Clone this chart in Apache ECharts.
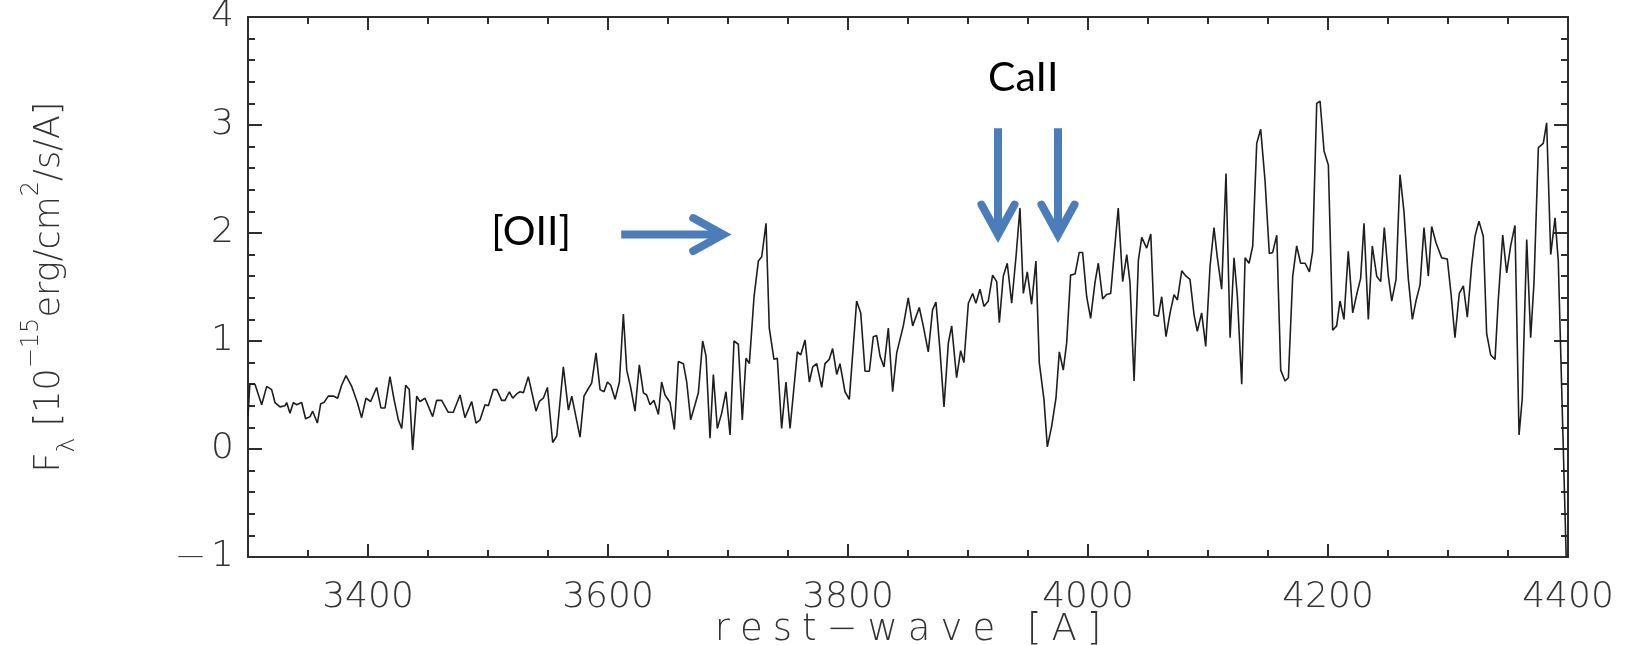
<!DOCTYPE html>
<html>
<head>
<meta charset="utf-8">
<script src="https://cdn.jsdelivr.net/npm/echarts@6/dist/echarts.min.js"></script>
<style>
  html, body { margin: 0; padding: 0; background: #ffffff; }
  #chart { width: 1644px; height: 645px; }
</style>
</head>
<body>
<div id="chart"></div>
<script>
// Rest-frame spectrum: wavelength [A] and flux [1e-15 erg/cm^2/s/A]
const wavelength = [
  3300.0, 3301.5, 3305.8, 3311.4, 3315.6, 3319.7, 3322.5, 3326.7, 3330.8, 3332.2,
  3335.0, 3337.8, 3340.6, 3344.7, 3348.0, 3351.7, 3353.9, 3357.8, 3360.6, 3363.3,
  3366.9, 3371.1, 3374.7, 3378.0, 3381.7, 3386.4, 3391.1, 3394.7, 3398.3, 3402.2,
  3407.2, 3410.8, 3414.2, 3418.3, 3421.7, 3425.3, 3428.1, 3431.4, 3434.4, 3437.2,
  3440.6, 3443.3, 3447.5, 3453.9, 3457.2, 3461.4, 3466.9, 3471.1, 3476.7, 3480.8,
  3486.4, 3490.0, 3493.4, 3497.5, 3500.3, 3504.5, 3507.3, 3511.4, 3514.2, 3517.8,
  3520.6, 3523.9, 3526.7, 3529.5, 3533.6, 3536.4, 3540.0, 3542.8, 3546.1, 3549.5,
  3553.9, 3557.3, 3562.8, 3567.0, 3569.8, 3576.7, 3580.0, 3583.6, 3586.4, 3590.0,
  3593.4, 3596.7, 3599.5, 3602.3, 3605.9, 3609.5, 3612.8, 3615.6, 3618.9, 3622.5,
  3626.1, 3629.5, 3632.2, 3635.0, 3638.3, 3642.0, 3644.7, 3647.5, 3651.7, 3655.3,
  3658.6, 3662.8, 3665.6, 3668.9, 3672.5, 3675.3, 3678.9, 3681.7, 3685.0, 3687.8,
  3691.1, 3694.7, 3698.3, 3701.7, 3705.0, 3708.6, 3711.9, 3715.0, 3717.8, 3721.7,
  3725.3, 3728.1, 3731.7, 3734.4, 3738.3, 3741.1, 3744.7, 3748.3, 3751.7, 3757.8,
  3760.6, 3764.2, 3767.8, 3770.6, 3773.9, 3778.1, 3780.8, 3784.4, 3787.2, 3790.6,
  3793.3, 3797.5, 3801.1, 3807.2, 3810.6, 3814.2, 3817.8, 3821.1, 3823.9, 3826.7,
  3830.0, 3833.6, 3837.2, 3840.6, 3846.1, 3850.2, 3853.9, 3859.4, 3862.7, 3866.9,
  3870.5, 3873.3, 3876.6, 3880.0, 3883.6, 3886.4, 3890.5, 3893.9, 3896.6, 3900.3,
  3903.9, 3906.6, 3910.0, 3913.3, 3916.9, 3920.5, 3923.9, 3926.1, 3929.4, 3932.7,
  3936.4, 3940.0, 3943.3, 3946.1, 3949.4, 3953.0, 3956.6, 3959.4, 3963.3, 3966.1,
  3969.7, 3973.3, 3976.1, 3979.4, 3982.2, 3985.5, 3989.2, 3992.7, 3995.5, 3998.9,
  4002.2, 4005.8, 4008.6, 4012.2, 4015.5, 4018.9, 4021.9, 4025.2, 4028.9, 4032.3,
  4035.0, 4038.4, 4042.0, 4044.8, 4048.9, 4052.3, 4055.0, 4058.6, 4061.4, 4065.0,
  4068.4, 4071.7, 4074.5, 4078.1, 4081.7, 4085.0, 4088.4, 4091.1, 4094.7, 4098.1,
  4101.7, 4105.0, 4107.8, 4111.4, 4115.0, 4118.4, 4121.7, 4124.5, 4128.1, 4130.9,
  4134.2, 4137.3, 4140.6, 4143.9, 4147.5, 4151.1, 4153.9, 4157.3, 4160.6, 4164.2,
  4167.0, 4170.6, 4173.9, 4177.2, 4180.9, 4184.5, 4187.2, 4190.6, 4193.4, 4196.7,
  4200.3, 4203.9, 4207.2, 4210.0, 4213.3, 4216.9, 4220.6, 4223.9, 4227.2, 4230.0,
  4233.6, 4236.9, 4240.6, 4243.9, 4246.9, 4250.3, 4253.1, 4256.7, 4260.0, 4263.3,
  4266.9, 4270.3, 4273.3, 4276.7, 4280.0, 4283.6, 4286.4, 4290.0, 4294.7, 4299.4,
  4302.5, 4305.8, 4309.4, 4312.8, 4316.1, 4319.7, 4322.5, 4325.8, 4329.4, 4332.2,
  4335.6, 4339.2, 4341.9, 4345.6, 4348.9, 4352.2, 4355.8, 4359.2, 4361.9, 4365.6,
  4368.9, 4371.7, 4375.3, 4379.4, 4382.2, 4385.6, 4389.2, 4391.9, 4398.5
];
const flux = [
  0.30, 0.60, 0.60, 0.41, 0.58, 0.55, 0.43, 0.39, 0.40, 0.43,
  0.33, 0.43, 0.41, 0.43, 0.28, 0.30, 0.35, 0.24, 0.42, 0.43,
  0.49, 0.49, 0.47, 0.59, 0.68, 0.58, 0.43, 0.29, 0.47, 0.44,
  0.57, 0.38, 0.38, 0.67, 0.46, 0.27, 0.19, 0.59, 0.55, -0.01,
  0.49, 0.44, 0.47, 0.30, 0.45, 0.45, 0.34, 0.34, 0.50, 0.29,
  0.44, 0.24, 0.27, 0.41, 0.40, 0.55, 0.55, 0.45, 0.45, 0.53,
  0.47, 0.51, 0.53, 0.52, 0.67, 0.53, 0.35, 0.44, 0.47, 0.57,
  0.06, 0.12, 0.76, 0.36, 0.49, 0.11, 0.49, 0.56, 0.61, 0.89,
  0.55, 0.53, 0.62, 0.59, 0.46, 0.62, 1.25, 0.73, 0.57, 0.35,
  0.78, 0.52, 0.50, 0.41, 0.45, 0.32, 0.62, 0.50, 0.43, 0.18,
  0.81, 0.79, 0.62, 0.27, 0.41, 0.52, 1.00, 0.86, 0.10, 0.69,
  0.19, 0.33, 0.53, 0.13, 1.00, 0.97, 0.27, 0.84, 0.79, 1.41,
  1.74, 1.78, 2.09, 1.12, 0.83, 0.84, 0.19, 0.62, 0.19, 0.90,
  0.87, 1.01, 0.62, 0.76, 0.79, 0.57, 0.79, 0.83, 0.93, 0.69,
  0.79, 0.53, 0.46, 1.37, 1.26, 0.72, 0.72, 1.04, 1.05, 0.86,
  0.76, 1.12, 0.53, 0.89, 1.14, 1.40, 1.14, 1.31, 1.14, 0.90,
  1.29, 1.36, 0.92, 0.39, 0.98, 1.14, 0.66, 0.91, 0.80, 1.35,
  1.44, 1.35, 1.48, 1.32, 1.37, 1.61, 1.55, 1.17, 1.60, 1.72,
  1.35, 1.78, 2.23, 1.44, 1.64, 1.34, 1.74, 0.80, 0.46, 0.02,
  0.21, 0.47, 0.90, 0.73, 0.98, 1.61, 1.62, 1.82, 1.82, 1.41,
  1.21, 1.54, 1.72, 1.39, 1.43, 1.44, 1.82, 2.23, 1.55, 1.80,
  1.54, 0.63, 1.75, 1.96, 1.86, 1.99, 1.24, 1.23, 1.41, 1.04,
  1.26, 1.43, 1.38, 1.65, 1.60, 1.57, 1.24, 1.09, 1.26, 0.95,
  1.69, 2.05, 1.77, 1.48, 2.55, 1.03, 1.77, 1.41, 0.60, 1.77,
  1.72, 1.88, 2.83, 2.96, 2.49, 1.81, 1.82, 1.98, 0.73, 0.63,
  0.66, 1.60, 1.88, 1.72, 1.72, 1.64, 1.83, 3.20, 3.22, 2.76,
  2.63, 1.10, 1.14, 1.37, 1.20, 1.83, 1.26, 1.43, 1.58, 2.09,
  1.20, 1.88, 1.60, 1.55, 2.05, 1.60, 1.37, 1.57, 2.54, 2.20,
  1.58, 1.20, 1.37, 1.52, 2.05, 1.60, 2.06, 1.91, 1.77, 1.76,
  1.44, 1.03, 1.44, 1.51, 1.22, 1.70, 1.97, 2.11, 1.97, 1.07,
  0.87, 0.83, 1.38, 1.98, 1.63, 1.88, 2.07, 0.13, 0.47, 1.94,
  1.03, 1.55, 2.79, 2.83, 3.02, 1.80, 2.14, 1.74, -1.00
];

// Axis ranges and tick positions
const xRange = [3300, 4400];
const yRange = [-1, 4];
const xMajorTicks = [3400, 3600, 3800, 4000, 4200, 4400];
const xMinorTicks = [3350, 3450, 3500, 3550, 3650, 3700, 3750, 3850, 3900, 3950,
                     4050, 4100, 4150, 4250, 4300, 4350];
const yMajorTicks = [0, 1, 2, 3];
const yMinorTicks = [-0.8, -0.6, -0.4, -0.2, 0.2, 0.4, 0.6, 0.8, 1.2, 1.4, 1.6, 1.8,
                     2.2, 2.4, 2.6, 2.8, 3.2, 3.4, 3.6, 3.8];
const yLabelValues = [-1, 0, 1, 2, 3, 4];
const yLabelTexts = ['{d|\u2014}1', '0', '1', '2', '3', '4'];
const xLabelValues = [3400, 3600, 3800, 4000, 4200, 4400];
const xTitle = 'rest\u2212wave [A]';

// Line identifications: text and arrow anchors in data units
const oiiLabel = { text: '[OII]', at: [3536, 2.01] };
const oiiArrow = { from: [3611, 1.985], to: [3696, 1.985] };
const caLabel = { text: 'CaII', at: [3946, 3.44] };
const caArrowX = [3925, 3975];
const caArrowY = [2.97, 1.985];

const FRAME = '#2e2e2e';
const LABEL_FONT = '"DejaVu Sans", sans-serif';
const NOTE_FONT = 'Lato, "Open Sans", sans-serif';
const ARROW = '#4A7DBA';
const labelBase = { fontFamily: LABEL_FONT, fontWeight: 200, color: '#333' };

// Wide-set axis title: each glyph in its own rich token with side padding
const xTitleRich = xTitle.split('').map(c => '{c|' + c + '}').join('');

function xAxisCfg(position, ticks, len, showLine, labels) {
  return {
    type: 'value', position: position, min: xRange[0], max: xRange[1],
    splitLine: { show: false },
    axisLine: { show: showLine, onZero: false, lineStyle: { color: FRAME, width: 2 } },
    axisTick: { show: true, inside: true, length: len, customValues: ticks,
                lineStyle: { color: FRAME, width: 2 } },
    axisLabel: labels ? Object.assign({
      show: true, customValues: xLabelValues, margin: 23, fontSize: 36,
      formatter: v => String(v)
    }, labelBase) : { show: false },
    name: labels ? xTitleRich : '',
    nameLocation: 'middle', nameGap: 54, nameMoveOverlap: false,
    nameTextStyle: {
      rich: { c: Object.assign({ fontSize: 37, lineHeight: 38, padding: [0, 5, 0, 5] }, labelBase) }
    }
  };
}

function yAxisCfg(position, ticks, len, showLine, labels) {
  const cfg = {
    type: 'value', position: position, min: yRange[0], max: yRange[1],
    splitLine: { show: false },
    axisLine: { show: showLine, onZero: false, lineStyle: { color: FRAME, width: 2 } },
    axisTick: { show: true, inside: true, length: len, customValues: ticks,
                lineStyle: { color: FRAME, width: 2 } },
    axisLabel: labels ? Object.assign({
      show: true, customValues: yLabelValues, margin: 14, fontSize: 36,
      formatter: v => yLabelTexts[yLabelValues.indexOf(Math.round(v))],
      rich: { d: Object.assign({ fontSize: 27, padding: [0, 7, 0, 0] }, labelBase) }
    }, labelBase) : { show: false }
  };
  if (labels) {
    cfg.name = '{t|F}{sub|\u03bb}{t| [10}{sup|\u221215}{t|erg/cm}{sup|2}{t|/s/A]}';
    cfg.nameLocation = 'middle';
    cfg.nameRotate = 90;
    cfg.nameGap = 168;
    cfg.nameMoveOverlap = false;
    cfg.nameTextStyle = {
      rich: {
        t: Object.assign({ fontSize: 35, lineHeight: 60, verticalAlign: 'middle' }, labelBase),
        sup: Object.assign({ fontSize: 24, lineHeight: 26, verticalAlign: 'top' }, labelBase),
        sub: Object.assign({ fontSize: 25, lineHeight: 34, verticalAlign: 'bottom' }, labelBase)
      }
    };
  }
  return cfg;
}

const chart = echarts.init(document.getElementById('chart'), null, { renderer: 'canvas' });

chart.setOption({
  animation: false,
  backgroundColor: '#ffffff',
  grid: { left: 248, right: 76, top: 17, bottom: 88, containLabel: false, outerBoundsMode: 'none' },
  xAxis: [
    xAxisCfg('bottom', xMajorTicks, 13, true, true),
    xAxisCfg('bottom', xMinorTicks, 7, false, false),
    xAxisCfg('top', xMajorTicks, 13, true, false),
    xAxisCfg('top', xMinorTicks, 7, false, false)
  ],
  yAxis: [
    yAxisCfg('left', yMajorTicks, 14, true, true),
    yAxisCfg('left', yMinorTicks, 7, false, false),
    yAxisCfg('right', yMajorTicks, 14, true, false),
    yAxisCfg('right', yMinorTicks, 7, false, false)
  ],
  series: [{
    type: 'line',
    xAxisIndex: 0, yAxisIndex: 0,
    data: wavelength.map((w, i) => [w, flux[i]]),
    showSymbol: false,
    symbol: 'none',
    clip: true,
    lineStyle: { color: '#1e1e1e', width: 1.6 }
  }]
});

// Annotation arrows and labels, placed through the data coordinate system
function px(p) { return chart.convertToPixel({ xAxisIndex: 0, yAxisIndex: 0 }, p); }

function arrowShapes(a, b) {
  const dx = b[0] - a[0], dy = b[1] - a[1];
  const L = Math.hypot(dx, dy), ux = dx / L, uy = dy / L;
  const nx = -uy, ny = ux;
  const head = 30, half = 16.5;
  const back = [b[0] - ux * head, b[1] - uy * head];
  return [
    { type: 'line', shape: { x1: a[0], y1: a[1], x2: b[0] - ux * 3, y2: b[1] - uy * 3 },
      style: { stroke: ARROW, lineWidth: 8, lineCap: 'butt' } },
    { type: 'polyline',
      shape: { points: [[back[0] + nx * half, back[1] + ny * half], b, [back[0] - nx * half, back[1] - ny * half]] },
      style: { stroke: ARROW, lineWidth: 8, lineCap: 'round', lineJoin: 'miter', fill: null } }
  ];
}

const graphics = [];
graphics.push(...arrowShapes(px(oiiArrow.from), px(oiiArrow.to)));
caArrowX.forEach(x => graphics.push(...arrowShapes(px([x, caArrowY[0]]), px([x, caArrowY[1]]))));
[oiiLabel, caLabel].forEach(l => {
  const p = px(l.at);
  graphics.push({
    type: 'text', x: p[0], y: p[1],
    style: { text: l.text, fill: '#000', font: '41px ' + NOTE_FONT, align: 'center', verticalAlign: 'middle' }
  });
});
chart.setOption({ graphic: graphics });
</script>
</body>
</html>
